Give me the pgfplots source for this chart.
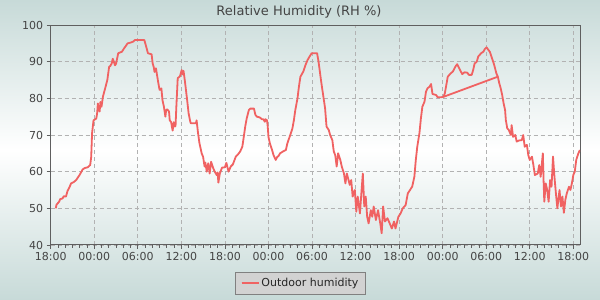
\documentclass[border=0pt]{standalone}
\usepackage{fontspec}
\setmainfont{DejaVu Sans}
\usepackage{pgfplots}
\pgfplotsset{compat=1.18}
\definecolor{bgc}{RGB}{199,218,216}
\definecolor{linec}{RGB}{240,98,98}
\definecolor{gridc}{RGB}{178,178,178}
\definecolor{axc}{RGB}{95,95,95}
\definecolor{txtc}{RGB}{68,68,68}
\definecolor{legfill}{RGB}{210,210,210}
\definecolor{legdraw}{RGB}{128,128,128}
\begin{document}
\begin{tikzpicture}[x=1pt,y=1pt]
\shade[top color=bgc, bottom color=bgc, middle color=white] (0,0) rectangle (600,300);
\useasboundingbox (0,0) rectangle (600,300);
\node[text=txtc, font=\fontsize{13}{15}\selectfont] at (299,288.5) {Relative Humidity (RH \%)};
\begin{axis}[
  at={(50.7pt,55pt)}, anchor=south west, scale only axis,
  width=529.3pt, height=220pt,
  xmin=0, xmax=72.92, ymin=40, ymax=100,
  axis line style={axc, line width=1pt},
  tick style={axc, line width=0.8pt},
  tick align=outside, tick pos=left,
  major tick length=4pt, minor tick length=3pt,
  xtick={0,6,...,72},
  xticklabels={18:00,00:00,06:00,12:00,18:00,00:00,06:00,12:00,18:00,00:00,06:00,12:00,18:00},
  minor x tick num=5,
  ytick={40,50,...,100},
  grid=major,
  major grid style={gridc, dash pattern=on 4pt off 3pt, line width=0.8pt},
  ticklabel style={text=txtc, font=\fontsize{11}{13}\selectfont},
  /pgf/number format/assume math mode=true,
  legend style={at={(0.472,-0.174)}, anchor=center, fill=legfill, draw=legdraw,
    font=\fontsize{11}{13}\selectfont, text=black!85, inner xsep=5pt, inner ysep=4pt},
  legend image code/.code={\draw[#1] (0pt,0pt) -- (11pt,0pt); \path (0pt,0pt) -- (17pt,0pt);},
]
\addplot[linec, line width=1.8pt, line join=round, no markers] coordinates {
(0.7,50) (0.8,51) (1.16,51.8) (1.3,52.5) (1.63,52.7) (1.8,53.3) (2.1,53.2) (2.33,54.8) (2.6,55.8) (2.8,56.8)
(3.2,57.2) (3.5,57.7) (3.95,59) (4.4,60.6) (4.7,61.0) (5.1,61.2) (5.44,61.8) (5.58,64) (5.7,70.5) (5.9,74)
(6.28,74.5) (6.4,76) (6.5,78.6) (6.6,77) (6.74,76.4) (6.85,79) (7.0,77.7) (7.2,80.5) (7.5,82.7) (7.8,85)
(8.05,88.6) (8.2,88.8) (8.4,89.5) (8.55,90.8) (8.7,90) (8.85,89) (9.0,89.4) (9.3,92.3) (9.8,92.7) (10.1,93.6)
(10.6,95) (11.0,95.2) (11.4,95.5) (11.6,95.9) (12.9,95.9) (13.1,94.5) (13.4,92.3) (13.9,92) (14.05,89.5) (14.2,88.5)
(14.3,87.2) (14.5,88.2) (14.8,84.5) (15.0,82.3) (15.25,82.7) (15.4,79.5) (15.6,77.7) (15.8,75) (15.9,76.8) (16.05,77)
(16.3,76.4) (16.4,74) (16.6,73.5) (16.7,72.2) (16.8,71.2) (16.95,73.5) (17.1,72.3) (17.2,72.5) (17.3,77.3) (17.5,85.5)
(17.8,86) (18.05,87.7) (18.2,86.5) (18.3,87.5) (18.5,84.5) (18.8,79.5) (19.0,75.9) (19.2,73.9) (19.3,73.2) (20.0,73.2)
(20.1,74) (20.3,70.5) (20.5,67.7) (20.8,65) (21.0,64) (21.2,61.4) (21.3,62.5) (21.5,60) (21.7,62.3) (21.9,59.5)
(22.1,62.7) (22.4,60.9) (22.6,60) (22.9,59) (23.0,59.8) (23.1,57) (23.3,59.5) (23.6,61.1) (24.0,61.2) (24.2,62.4)
(24.5,60) (24.8,61.4) (25.1,62) (25.5,64.1) (25.8,64.7) (26.1,65.5) (26.4,66.8) (26.6,69.5) (26.8,72.3) (27.0,74.5)
(27.3,76.8) (27.5,77.2) (28.0,77.2) (28.2,75.5) (28.4,75) (28.8,74.8) (29.1,74.3) (29.3,74.3) (29.5,73.6) (29.6,74.3)
(29.8,74) (29.9,72.3) (30.0,69.5) (30.2,67.7) (30.5,65.9) (30.7,64.5) (31.0,63.2) (31.2,64) (31.4,64.3) (31.6,65)
(32.0,65.5) (32.4,65.9) (32.6,67.7) (33.0,70) (33.3,71.8) (33.5,74) (33.7,76.8) (34.0,80) (34.2,83.2) (34.4,85.9)
(34.8,87.3) (35.1,89.1) (35.4,90.5) (35.7,91.5) (35.95,92.3) (36.7,92.3) (36.9,90) (37.2,85.5) (37.4,82.7) (37.6,80)
(37.8,77.3) (38.0,72.3) (38.3,71.4) (38.5,70) (38.8,68.6) (39.0,65.5) (39.2,64.5) (39.4,61.4) (39.6,65) (39.9,63.2)
(40.1,61.4) (40.4,59.5) (40.6,56.8) (40.8,59.5) (41.2,56.4) (41.4,57.7) (41.6,53.2) (41.9,55) (42.1,49.1) (42.3,53.2)
(42.6,48.6) (42.8,54.1) (43.0,59.5) (43.2,50.5) (43.4,53.2) (43.6,47.7) (43.8,45.9) (44.1,49.5) (44.3,47.7) (44.5,50.5)
(44.8,46.8) (45.1,49.5) (45.4,45.9) (45.6,43.2) (45.8,50.5) (46.05,46.4) (46.4,47.3) (46.7,45.9) (47.0,44.5) (47.3,46.4)
(47.5,44.5) (47.9,47.7) (48.2,48.6) (48.5,50) (48.9,50.9) (49.2,54.1) (49.5,55) (49.8,55.9) (50.1,58.6) (50.3,63.2)
(50.5,66.8) (50.8,70.5) (51.0,74.5) (51.2,77.7) (51.5,79.1) (51.7,81.8) (51.9,82.7) (52.2,83.2) (52.4,83.9) (52.6,81.2)
(53.1,80.9) (53.3,80.3) (53.8,80.3) (54.1,80.4)
(54.3,81.4) (54.5,83.6) (54.7,85.9) (55.1,86.8) (55.4,87.3) (55.8,88.8) (56.0,89.3) (56.4,87.7) (56.7,86.6) (57.0,87.1)
(57.4,87.0) (57.6,86.4) (58.0,86.4) (58.2,87.7) (58.4,89.5) (58.7,90) (58.9,91.4) (59.3,92.3) (59.6,92.7) (59.8,93.4)
(60.05,93.9) (60.3,93.2) (60.5,92.7) (60.8,90.9) (61.1,89.1) (61.4,86.8) (61.6,85.9)
(54.1,80.4) (61.6,85.9)
(61.8,84.1) (62.0,82.7) (62.2,80.9) (62.4,78.6) (62.6,76.8) (62.7,74.1) (62.9,71.8) (63.1,71.4) (63.4,70) (63.5,72.7)
(63.7,69.5) (64.0,70) (64.2,68.2) (64.5,68.5) (64.9,68.6) (65.1,70) (65.3,66.8) (65.6,67.3) (65.8,64.5) (66.0,63.2)
(66.3,64.1) (66.5,61.8) (66.7,59.1) (67.1,59.5) (67.3,61.8) (67.5,58.6) (67.8,65) (67.9,57.7) (68.0,51.8) (68.2,56.8)
(68.4,55) (68.6,51.8) (68.8,57.7) (69.0,55.9) (69.2,64.1) (69.4,58.6) (69.6,54.1) (69.8,50) (70.1,55) (70.3,50.5)
(70.5,53.2) (70.7,48.8) (70.9,52.3) (71.1,54.1) (71.4,55.9) (71.6,55) (71.8,56.8) (72.0,59.1) (72.2,60) (72.4,63.2)
(72.7,65) (72.9,65.9)
};
\addlegendentry{Outdoor humidity}
\end{axis}
\end{tikzpicture}
\end{document}
